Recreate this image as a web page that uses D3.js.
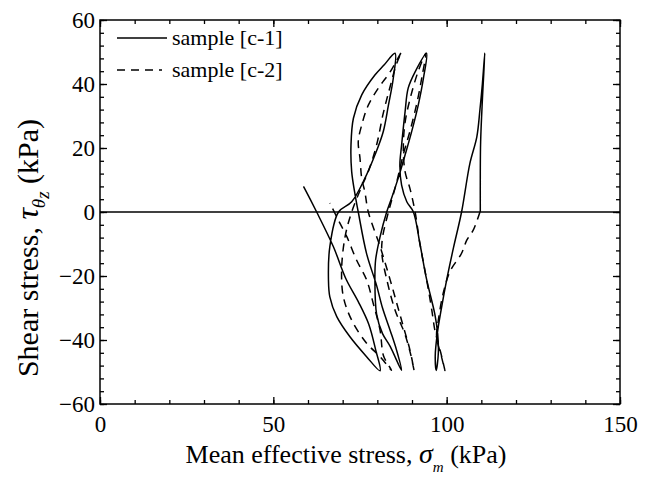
<!DOCTYPE html>
<html>
<head>
<meta charset="utf-8">
<script src="https://cdn.jsdelivr.net/npm/d3@7"></script>
<style>
  body { margin: 0; background: #fff; }
</style>
</head>
<body>
<div id="chart"></div>
<script>
// sample [c-1], [mean effective stress p (kPa), shear stress tau (kPa)], in loading order
var sampleC1 = [
  [109.7,0],[109.7,12],[109.8,22],[110.3,35],[111.0,49.7],
  [110.3,40],[109.6,32],[108.7,23.5],[106.7,15.2],[104.3,0],[102,-11],[100,-21.2],[98.5,-30],[97.3,-38],[96.7,-45],[97.0,-49.5],
  [97.6,-44],[97.4,-38],[96.6,-32],[94.2,-21],[92.3,-10],[90.4,0],[88.5,3.2],[87,8.4],[86.5,14.7],[87,20.9],[88,31.3],[88.9,38.7],[90.9,43.8],[94.2,49.6],
  [93.3,41.8],[91.8,33.4],[89.9,25.1],[88,17.8],[86,10.5],[84.1,4.3],[82.7,0],[80.8,-7.7],[79.5,-15],[79.3,-21],[79.8,-32],[81.5,-38],[83.7,-42],[87,-49.5],
  [85.5,-43],[83.7,-37],[81.5,-30],[79.8,-23],[76.9,-13],[74.5,0],[73.6,5.3],[72.6,12.6],[72.4,20.9],[73.1,29.3],[75.5,36.6],[79.3,42.8],[82,46],[85.1,49.6],
  [84.6,41.8],[83.2,33.4],[81.7,25.1],[79.3,17.8],[76.4,10.5],[72.6,3.2],[68.8,0],[66.3,-10.8],[65.9,-21],[66.3,-26.5],[68.3,-32.7],[72.1,-39],[76.9,-45.2],[80.8,-49.6],
  [79.5,-43],[77.5,-35],[74.5,-28],[71,-21],[67.3,-10.8],[62.5,0],[58.7,8]
];

// sample [c-2]
var sampleC2 = [
  [109.6,0],[107.7,-5.6],[105.8,-8.8],[104.3,-12.9],[101,-18.5],[99,-25.4],[97.6,-33.8],[97.1,-39],[98.5,-45.2],[99.5,-49.5],
  [98.3,-44],[97.3,-40],[96.6,-37],[95.7,-30.6],[94.2,-21],[92.3,-10],[90.9,0],[89.4,7.4],[88,12.6],[87.5,20],[88,28],[89.6,36],[91.8,44],[94,49.6],
  [93,43],[91.6,35],[89.6,26],[87.5,18],[85.5,9],[83.2,0],[81.5,-8],[81.3,-13],[82.7,-21],[85.1,-30.6],[87.9,-38],[89.5,-44],[90.6,-49.5],
  [89.4,-43.1],[87.5,-35.8],[85.6,-28.5],[83.7,-21.2],[80.8,-10.8],[77.4,0],[76.4,6.3],[75.5,10.5],[75,16.8],[74.5,22],[75.5,27.2],[77.4,33.4],[80.3,38.7],[83.7,43.8],[87,50],
  [85.6,46.5],[83.7,39.2],[81.7,30.8],[79.8,21],[77.5,13],[75.5,8],[72.6,0],[70.7,-7.7],[69.7,-18],[70.2,-26.5],[72.6,-33.8],[76.9,-41],[80.8,-45.2],[84.1,-49.5],
  [81.8,-45],[80.8,-37],[78.8,-28.5],[76.9,-21.2],[74,-15],[71.2,-7.7],[69.2,-3.5],[66.3,2.8]
];

var seriesNames = ["sample [c-1]", "sample [c-2]"];
var xTicks = [0, 50, 100, 150];
var yTicks = [-60, -40, -20, 0, 20, 40, 60];
var xMinor = d3.range(0, 151, 10);
var yMinor = d3.range(-60, 61, 4);

var serif = "Liberation Serif, Times New Roman, Times, DejaVu Serif, serif";

var margin = {top: 20, right: 33, bottom: 73, left: 100},
    width = 653 - margin.left - margin.right,
    height = 477 - margin.top - margin.bottom;

var svg = d3.select("#chart")
  .append("svg")
    .attr("width", 653)
    .attr("height", 477)
    .attr("font-family", serif)
  .append("g")
    .attr("transform", "translate(" + margin.left + "," + margin.top + ")");

var x = d3.scaleLinear().domain([0, 150]).range([0, width]);
var y = d3.scaleLinear().domain([-60, 60]).range([height, 0]);

// ticks point inward on all four sides
function styleAxis(g) {
  g.attr("font-family", serif).attr("font-size", 23);
  g.select(".domain").remove();
  g.selectAll("line").attr("stroke", "#000").attr("stroke-width", 1.3);
  g.selectAll("text").attr("fill", "#000");
}

svg.append("g").attr("transform", "translate(0," + height + ")")
  .call(d3.axisBottom(x).tickValues(xMinor).tickSize(-4).tickFormat(""))
  .call(styleAxis);
svg.append("g").attr("transform", "translate(0," + height + ")")
  .call(d3.axisBottom(x).tickValues(xTicks).tickSize(-7).tickPadding(12))
  .call(styleAxis);
svg.append("g")
  .call(d3.axisTop(x).tickValues(xMinor).tickSize(-4).tickFormat(""))
  .call(styleAxis);
svg.append("g")
  .call(d3.axisTop(x).tickValues(xTicks).tickSize(-7).tickFormat(""))
  .call(styleAxis);

svg.append("g")
  .call(d3.axisLeft(y).tickValues(yMinor).tickSize(-4).tickFormat(""))
  .call(styleAxis);
svg.append("g")
  .call(d3.axisLeft(y).tickValues(yTicks).tickSize(-7).tickPadding(5))
  .call(styleAxis);
svg.append("g").attr("transform", "translate(" + width + ",0)")
  .call(d3.axisRight(y).tickValues(yMinor).tickSize(-4).tickFormat(""))
  .call(styleAxis);
svg.append("g").attr("transform", "translate(" + width + ",0)")
  .call(d3.axisRight(y).tickValues(yTicks).tickSize(-7).tickFormat(""))
  .call(styleAxis);

svg.append("rect")
  .attr("width", width)
  .attr("height", height)
  .attr("fill", "none")
  .attr("stroke", "#000")
  .attr("stroke-width", 1.5);

// zero line
svg.append("line")
  .attr("x1", 0).attr("x2", width)
  .attr("y1", y(0)).attr("y2", y(0))
  .attr("stroke", "#000")
  .attr("stroke-width", 1.5);

var line = d3.line()
  .x(function(d) { return x(d[0]); })
  .y(function(d) { return y(d[1]); })
  .curve(d3.curveCatmullRom.alpha(0.5));

var dashes = [null, "8,6"];

[sampleC1, sampleC2].forEach(function(s, i) {
  svg.append("path")
    .datum(s)
    .attr("fill", "none")
    .attr("stroke", "#000")
    .attr("stroke-width", 1.5)
    .attr("stroke-linejoin", "round")
    .attr("stroke-dasharray", dashes[i])
    .attr("d", line);
});

// legend
var legend = svg.append("g").attr("transform", "translate(17,18)");
seriesNames.forEach(function(name, i) {
  var row = legend.append("g").attr("transform", "translate(0," + (i * 32) + ")");
  row.append("line")
    .attr("x1", 0).attr("x2", i ? 45 : 50)
    .attr("stroke", "#000")
    .attr("stroke-width", 1.5)
    .attr("stroke-dasharray", dashes[i]);
  row.append("text")
    .attr("x", 55)
    .attr("y", 7)
    .attr("font-size", 22)
    .text(name);
});

// axis titles
var xt = svg.append("text")
  .attr("x", 246)
  .attr("y", height + 59)
  .attr("text-anchor", "middle")
  .attr("font-size", 26);
xt.append("tspan").text("Mean effective stress, ");
xt.append("tspan").attr("font-style", "italic").attr("font-size", 28).text("σ");
xt.append("tspan").attr("font-style", "italic").attr("font-size", 15).attr("dy", 9).text("m");
xt.append("tspan").attr("dy", -9).text(" (kPa)");

var yt = svg.append("text")
  .attr("transform", "translate(" + (38 - margin.left) + "," + (248 - margin.top) + ") rotate(-90)")
  .attr("text-anchor", "middle")
  .attr("font-size", 30);
yt.append("tspan").text("Shear stress, ");
yt.append("tspan").attr("font-style", "italic").attr("font-size", 32).text("τ");
yt.append("tspan").attr("font-style", "italic").attr("font-size", 19).attr("dy", 7).text("θ");
yt.append("tspan").attr("font-style", "italic").attr("font-size", 19).attr("dy", 4).text("z");
yt.append("tspan").attr("dy", -11).text(" (kPa)");
</script>
</body>
</html>
